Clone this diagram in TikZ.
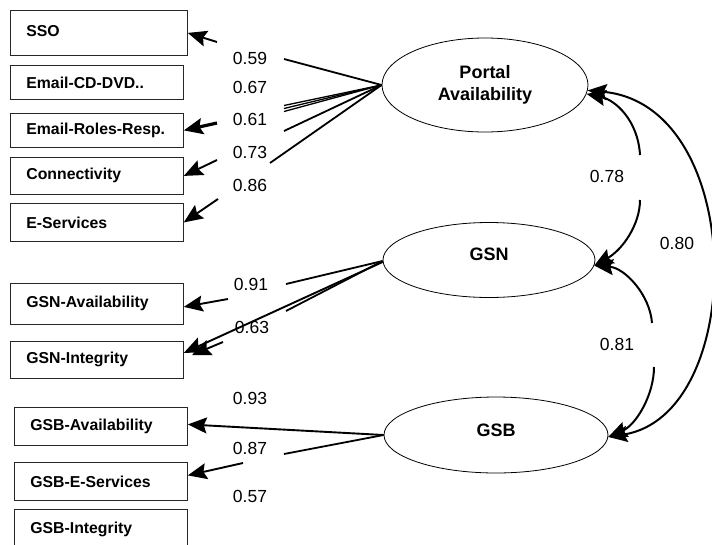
\documentclass[tikz,border=0pt]{standalone}
\usepackage{fontspec}
\setmainfont{Liberation Sans}
\usetikzlibrary{shapes.geometric,arrows.meta}
\tikzset{head/.tip={Stealth[length=19pt,width=16pt,inset=3pt]}}
\begin{document}
\begin{tikzpicture}[x=1pt,y=-1pt,
  box/.style={draw=black!85, line width=0.8pt, anchor=north west,
    inner xsep=16pt, inner ysep=0pt, align=left, text width=141pt,
    font=\fontsize{15.8}{18}\selectfont\bfseries},
  latent/.style={draw, ellipse, line width=0.8pt, inner sep=0pt, align=center,
    font=\fontsize{18}{22}\selectfont\bfseries},
  lbl/.style={inner sep=0pt, font=\fontsize{17.5}{20}\selectfont},
  load/.style={line width=1.8pt},
  arrowed/.style={-head, line width=1.9pt},
  corr/.style={-head, line width=2pt}
]
\useasboundingbox (0,0) rectangle (712,544);

% observed indicators
\node[box, text width=145pt, minimum height=45pt] (sso) at (10,10) {\raisebox{4pt}{SSO}};
\node[box, minimum height=34pt] (ecd) at (10,65)  {Email-CD-DVD..};
\node[box, minimum height=34pt] (err) at (10,113) {Email-Roles-Resp.};
\node[box, minimum height=37pt] (con) at (10,157) {Connectivity};
\node[box, minimum height=38pt] (ese) at (10,203) {E-Services};
\node[box, minimum height=41pt] (gna) at (10,283) {GSN-Availability};
\node[box, minimum height=37pt] (gni) at (10,341) {GSN-Integrity};
\node[box, minimum height=38pt] (gba) at (14,407) {GSB-Availability};
\node[box, minimum height=38pt] (gbe) at (14,462) {GSB-E-Services};
\node[box, minimum height=40pt] (gbi) at (14,509) {\raisebox{-1pt}{GSB-Integrity}};

% latent factors
\node[latent, minimum width=206pt, minimum height=94pt] (pa)  at (485,85)  {Portal\\Availability};
\node[latent, minimum width=212pt, minimum height=75pt] (gsn) at (489,260) {\raisebox{11pt}{GSN}};
\node[latent, minimum width=224pt, minimum height=76pt] (gsb) at (496,435) {\raisebox{10pt}{GSB}};

% loadings
\node[lbl] (l59) at (250,58)  {0.59};
\node[lbl] (l67) at (250,87)  {0.67};
\node[lbl] (l61) at (250,119) {0.61};
\node[lbl] (l73) at (250,152) {0.73};
\node[lbl] (l86) at (250,185) {0.86};
\node[lbl] (l91) at (251,284) {0.91};
\node[lbl] (l63) at (252,327) {0.63};
\node[lbl] (l93) at (250,398) {0.93};
\node[lbl] (l87) at (250,448) {0.87};
\node[lbl] (l57) at (250,496) {0.57};

% correlations
\node[lbl] (c78) at (607,176) {0.78};
\node[lbl] (c81) at (617,344) {0.81};
\node[lbl] (c80) at (677,243) {0.80};

% free ends of the loading paths
\coordinate (p1) at (284,59);
\coordinate (p2) at (284,105.5);
\coordinate (p3) at (284,108.5);
\coordinate (p4) at (284,111.5);
\coordinate (p5) at (284,131);
\coordinate (p6) at (270,163);
\coordinate (q1) at (217,42);
\coordinate (q2) at (217,123);
\coordinate (q3) at (217,160);
\coordinate (q4) at (218,199);

\coordinate (n1) at (286,284);
\coordinate (n2) at (286,311);
\coordinate (m1) at (228,299);
\coordinate (m2) at (223,342);
\coordinate (m2t) at (192,355);

\coordinate (b1) at (284,454);
\coordinate (k1) at (243,463);

% Portal Availability loadings
\draw[load] (pa.west) -- (p1);
\draw[line width=1.3pt] (pa.west) -- (p2);
\draw[line width=1.3pt] (pa.west) -- (p3);
\draw[line width=1.3pt] (pa.west) -- (p4);
\draw[load] (pa.west) -- (p5);
\draw[load] (pa.west) -- (p6);
\draw[arrowed] (q1) -- (sso.east);
\draw[arrowed, line width=3.2pt] (q2) -- (err.east);
\draw[arrowed] (q3) -- (con.east);
\draw[arrowed] (q4) -- (ese.east);

% GSN loadings
\draw[load] ([yshift=-1pt]gsn.west) -- (n1);
\draw[load] ([yshift=-1pt]gsn.west) -- (n2);
\draw[arrowed] ([yshift=-2pt]gsn.west) -- ([yshift=7pt]gni.east);
\draw[arrowed] (m1) -- ([yshift=-3pt]gna.east);
\draw[arrowed] (m2) -- (m2t);

% GSB loadings
\draw[arrowed] (gsb.west) -- ([yshift=2pt]gba.east);
\draw[load] (gsb.west) -- (b1);
\draw[arrowed] (k1) -- ([yshift=6pt]gbe.east);

% factor correlations
\coordinate (u1) at (640,155);
\coordinate (u2) at (640,200);
\coordinate (v1) at (652,323);
\coordinate (v2) at (654,367);
\draw[corr] (u1) .. controls (638,120) and (615,100) .. (pa.-5);
\draw[corr] (u2) .. controls (640,225) and (622,250) .. (gsn.-3);
\draw[corr] (v1) .. controls (650,295) and (625,268) .. (gsn.-3);
\draw[corr] (v2) .. controls (654,395) and (636,425) .. (gsb.-1);
\draw[corr, head-head] (pa.-3) .. controls (748,105) and (748,415) .. (gsb.-1);
\end{tikzpicture}
\end{document}
